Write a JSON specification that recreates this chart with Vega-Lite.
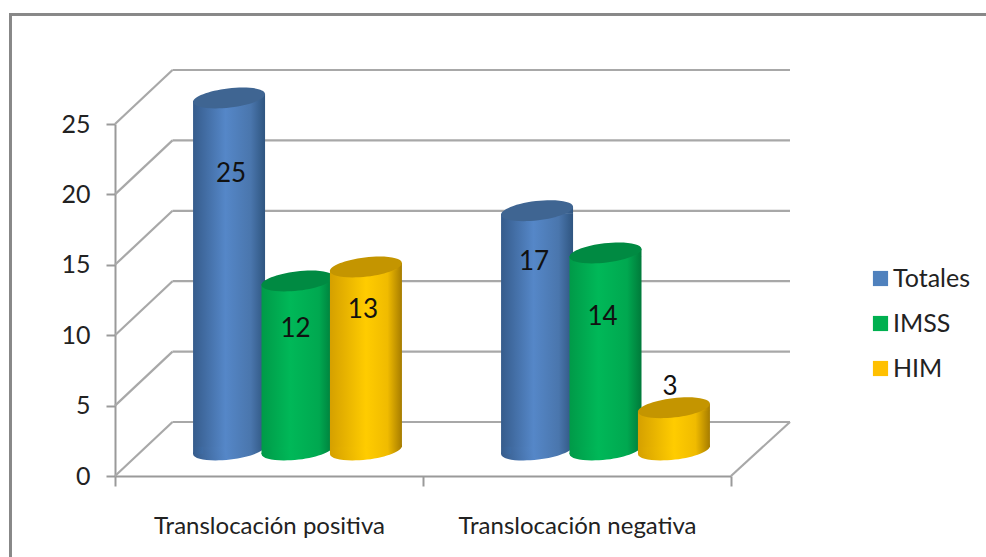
{
  "$schema": "https://vega.github.io/schema/vega-lite/v6.json",
  "width": 616,
  "height": 352,
  "autosize": {"type": "none"},
  "padding": {"left": 115, "top": 124, "right": 255, "bottom": 81},
  "background": "white",
  "config": {
    "view": {"stroke": null},
    "font": "Lato"
  },
  "datasets": {
    "casos": [
      {"grupo": "Translocación positiva", "serie": "Totales", "valor": 25},
      {"grupo": "Translocación positiva", "serie": "IMSS", "valor": 12},
      {"grupo": "Translocación positiva", "serie": "HIM", "valor": 13},
      {"grupo": "Translocación negativa", "serie": "Totales", "valor": 17},
      {"grupo": "Translocación negativa", "serie": "IMSS", "valor": 14},
      {"grupo": "Translocación negativa", "serie": "HIM", "valor": 3}
    ],
    "marcas": [
      {"marca": 0}, {"marca": 5}, {"marca": 10}, {"marca": 15}, {"marca": 20}, {"marca": 25}
    ]
  },
  "resolve": {"scale": {"x": "independent"}},
  "layer": [
    {
      "data": {"name": "marcas"},
      "encoding": {
        "x": {"datum": 0, "type": "quantitative", "scale": {"domain": [0, 1]}, "axis": null},
        "x2": {"datum": 1},
        "y": {
          "field": "marca", "type": "quantitative", "title": null,
          "scale": {"domain": [0, 25], "nice": false},
          "axis": {
            "values": [0, 5, 10, 15, 20, 25], "grid": false, "format": "d",
            "domainColor": "#9a9a9a", "domainWidth": 2, "tickColor": "#9a9a9a", "tickWidth": 2, "tickSize": 9,
            "labelFontSize": 25, "labelColor": "#222222", "labelPadding": 16, "labelFont": "Lato"
          }
        }
      },
      "layer": [
        {
          "mark": {"type": "rect", "fill": null, "stroke": "#888888", "strokeWidth": 2.5},
          "encoding": {
            "x": {"datum": -0.17, "type": "quantitative"},
            "x2": {"datum": 1.6},
            "y": {"datum": 32.8, "type": "quantitative"},
            "y2": {"datum": -12}
          }
        },
        {
          "mark": {"type": "rule", "stroke": "#a8a8a8", "strokeWidth": 2.2, "xOffset": 57.5, "x2Offset": 59, "yOffset": -54}
        },
        {
          "mark": {"type": "rule", "stroke": "#a8a8a8", "strokeWidth": 2.2, "x2Offset": 57.5, "y2Offset": -54},
          "encoding": {
            "x": {"datum": 0, "type": "quantitative"},
            "x2": {"datum": 0},
            "y2": {"field": "marca"}
          }
        },
        {
          "transform": [{"filter": "datum.marca === 0"}],
          "mark": {"type": "rule", "stroke": "#a8a8a8", "strokeWidth": 2.2, "x2Offset": 59, "y2Offset": -54},
          "encoding": {
            "x": {"datum": 1, "type": "quantitative"},
            "x2": {"datum": 1},
            "y2": {"field": "marca"}
          }
        }
      ]
    },
    {
      "data": {"name": "casos"},
      "encoding": {
        "x": {
          "field": "grupo", "type": "nominal", "sort": null, "title": null,
          "scale": {"paddingInner": 0, "paddingOuter": 0},
          "axis": {
            "labelAngle": 0, "tickBand": "extent", "domainColor": "#9a9a9a", "domainWidth": 2.2,
            "tickColor": "#9a9a9a", "tickWidth": 2, "tickSize": 10, "labelLimit": 400,
            "labelFontSize": 24, "labelColor": "#222222", "labelPadding": 40, "labelFont": "Lato", "labelBaseline": "middle"
          }
        },
        "xOffset": {
          "field": "serie", "type": "nominal", "sort": ["Totales", "IMSS", "HIM"],
          "scale": {"domain": ["Totales", "IMSS", "HIM"], "range": [28.5, 336.5], "paddingInner": 0, "paddingOuter": 0.75}
        },
        "y": {
          "field": "valor", "type": "quantitative", "title": null,
          "scale": {"domain": [0, 25], "nice": false},
          "axis": {
            "values": [0, 5, 10, 15, 20, 25], "grid": false, "format": "d",
            "domainColor": "#9a9a9a", "domainWidth": 2, "tickColor": "#9a9a9a", "tickWidth": 2, "tickSize": 9,
            "labelFontSize": 25, "labelColor": "#222222", "labelPadding": 16, "labelFont": "Lato"
          }
        }
      },
      "layer": [
        {
          "mark": {"type": "bar", "width": 60, "yOffset": -18, "y2Offset": -32},
          "encoding": {
            "y2": {"datum": 0},
            "color": {
              "field": "serie", "type": "nominal",
              "scale": {"domain": ["Totales", "IMSS", "HIM"], "range": ["#4f81bd", "#00b050", "#ffc000"]},
              "legend": {
                "title": null, "orient": "none", "legendX": 753, "legendY": 142,
                "symbolType": "square", "symbolSize": 230, "symbolStrokeWidth": 0, "symbolOpacity": 1,
                "labelFontSize": 25, "labelColor": "#222222", "labelFont": "Lato",
                "labelOffset": 0, "rowPadding": 19
              }
            }
          }
        },
        {
          "transform": [{"filter": "datum.serie === 'Totales'"}],
          "layer": [
            {
              "mark": {"type": "point", "filled": true, "opacity": 1, "size": 5242, "angle": -6.8, "yOffset": -26,
                "shape": "M-1,0A1,0.2666,0,1,0,1,0A1,0.2666,0,1,0,-1,0Z",
                "fill": {"gradient": "linear", "x1": 0, "y1": 0, "x2": 1, "y2": 0, "stops": [{"offset": 0, "color": "#365c8c"}, {"offset": 0.45, "color": "#5587c8"}, {"offset": 0.8, "color": "#4a76ad"}, {"offset": 1, "color": "#2f5580"}]}},
              "encoding": {"y": {"datum": 0, "type": "quantitative"}}
            },
            {
              "mark": {"type": "bar", "width": 72, "yOffset": -23, "y2Offset": -29,
                "fill": {"gradient": "linear", "x1": 0, "y1": 0, "x2": 1, "y2": 0, "stops": [{"offset": 0, "color": "#365c8c"}, {"offset": 0.45, "color": "#5587c8"}, {"offset": 0.8, "color": "#4a76ad"}, {"offset": 1, "color": "#2f5580"}]}},
              "encoding": {"y2": {"datum": 0}}
            },
            {
              "mark": {"type": "point", "filled": true, "opacity": 1, "size": 5184, "yOffset": -26,
                "shape": "M0.72,-0.11L1,-0.11L1,0.09L0.72,0.09Z",
                "fill": {"gradient": "linear", "x1": 0, "y1": 0, "x2": 1, "y2": 0, "stops": [{"offset": 0, "color": "#436da0"}, {"offset": 1, "color": "#2f5580"}]}}
            },
            {
              "mark": {"type": "point", "filled": true, "opacity": 1, "size": 5184, "yOffset": -26,
                "shape": "M-1,-0.09L-0.72,-0.09L-0.72,0.11L-1,0.11Z",
                "fill": {"gradient": "linear", "x1": 0, "y1": 0, "x2": 1, "y2": 0, "stops": [{"offset": 0, "color": "#365c8c"}, {"offset": 1, "color": "#3f6ca4"}]}},
              "encoding": {"y": {"datum": 0, "type": "quantitative"}}
            },
            {
              "mark": {"type": "point", "filled": true, "opacity": 1, "size": 5242, "angle": -6.8, "yOffset": -26,
                "shape": "M-1,0A1,0.2666,0,1,0,1,0A1,0.2666,0,1,0,-1,0Z", "fill": "#3f6592"}
            }
          ]
        },
        {
          "transform": [{"filter": "datum.serie === 'IMSS'"}],
          "layer": [
            {
              "mark": {"type": "point", "filled": true, "opacity": 1, "size": 5242, "angle": -6.8, "yOffset": -26,
                "shape": "M-1,0A1,0.2666,0,1,0,1,0A1,0.2666,0,1,0,-1,0Z",
                "fill": {"gradient": "linear", "x1": 0, "y1": 0, "x2": 1, "y2": 0, "stops": [{"offset": 0, "color": "#009a48"}, {"offset": 0.4, "color": "#00b858"}, {"offset": 0.8, "color": "#00a850"}, {"offset": 1, "color": "#007a3a"}]}},
              "encoding": {"y": {"datum": 0, "type": "quantitative"}}
            },
            {
              "mark": {"type": "bar", "width": 72, "yOffset": -23, "y2Offset": -29,
                "fill": {"gradient": "linear", "x1": 0, "y1": 0, "x2": 1, "y2": 0, "stops": [{"offset": 0, "color": "#009a48"}, {"offset": 0.4, "color": "#00b858"}, {"offset": 0.8, "color": "#00a850"}, {"offset": 1, "color": "#007a3a"}]}},
              "encoding": {"y2": {"datum": 0}}
            },
            {
              "mark": {"type": "point", "filled": true, "opacity": 1, "size": 5184, "yOffset": -26,
                "shape": "M0.72,-0.11L1,-0.11L1,0.09L0.72,0.09Z",
                "fill": {"gradient": "linear", "x1": 0, "y1": 0, "x2": 1, "y2": 0, "stops": [{"offset": 0, "color": "#009c4a"}, {"offset": 1, "color": "#007a3a"}]}}
            },
            {
              "mark": {"type": "point", "filled": true, "opacity": 1, "size": 5184, "yOffset": -26,
                "shape": "M-1,-0.09L-0.72,-0.09L-0.72,0.11L-1,0.11Z",
                "fill": {"gradient": "linear", "x1": 0, "y1": 0, "x2": 1, "y2": 0, "stops": [{"offset": 0, "color": "#009a48"}, {"offset": 1, "color": "#00a34e"}]}},
              "encoding": {"y": {"datum": 0, "type": "quantitative"}}
            },
            {
              "mark": {"type": "point", "filled": true, "opacity": 1, "size": 5242, "angle": -6.8, "yOffset": -26,
                "shape": "M-1,0A1,0.2666,0,1,0,1,0A1,0.2666,0,1,0,-1,0Z", "fill": "#008a42"}
            }
          ]
        },
        {
          "transform": [{"filter": "datum.serie === 'HIM'"}],
          "layer": [
            {
              "mark": {"type": "point", "filled": true, "opacity": 1, "size": 5242, "angle": -6.8, "yOffset": -26,
                "shape": "M-1,0A1,0.2666,0,1,0,1,0A1,0.2666,0,1,0,-1,0Z",
                "fill": {"gradient": "linear", "x1": 0, "y1": 0, "x2": 1, "y2": 0, "stops": [{"offset": 0, "color": "#d5a000"}, {"offset": 0.5, "color": "#ffcc00"}, {"offset": 0.8, "color": "#f0bb00"}, {"offset": 1, "color": "#a67c00"}]}},
              "encoding": {"y": {"datum": 0, "type": "quantitative"}}
            },
            {
              "mark": {"type": "bar", "width": 72, "yOffset": -23, "y2Offset": -29,
                "fill": {"gradient": "linear", "x1": 0, "y1": 0, "x2": 1, "y2": 0, "stops": [{"offset": 0, "color": "#d5a000"}, {"offset": 0.5, "color": "#ffcc00"}, {"offset": 0.8, "color": "#f0bb00"}, {"offset": 1, "color": "#a67c00"}]}},
              "encoding": {"y2": {"datum": 0}}
            },
            {
              "mark": {"type": "point", "filled": true, "opacity": 1, "size": 5184, "yOffset": -26,
                "shape": "M0.72,-0.11L1,-0.11L1,0.09L0.72,0.09Z",
                "fill": {"gradient": "linear", "x1": 0, "y1": 0, "x2": 1, "y2": 0, "stops": [{"offset": 0, "color": "#e4af00"}, {"offset": 1, "color": "#a67c00"}]}}
            },
            {
              "mark": {"type": "point", "filled": true, "opacity": 1, "size": 5184, "yOffset": -26,
                "shape": "M-1,-0.09L-0.72,-0.09L-0.72,0.11L-1,0.11Z",
                "fill": {"gradient": "linear", "x1": 0, "y1": 0, "x2": 1, "y2": 0, "stops": [{"offset": 0, "color": "#d5a000"}, {"offset": 1, "color": "#e2ae00"}]}},
              "encoding": {"y": {"datum": 0, "type": "quantitative"}}
            },
            {
              "mark": {"type": "point", "filled": true, "opacity": 1, "size": 5242, "angle": -6.8, "yOffset": -26,
                "shape": "M-1,0A1,0.2666,0,1,0,1,0A1,0.2666,0,1,0,-1,0Z", "fill": "#c49500"}
            }
          ]
        },
        {
          "mark": {
            "type": "text", "fontSize": 26, "font": "Lato", "color": "#111111",
            "baseline": "middle", "align": "center", "yOffset": -26,
            "dx": {"expr": "datum.valor === 25 ? 2 : datum.valor === 12 ? -2 : datum.valor === 3 ? -4 : -3"},
            "dy": {"expr": "{'25': 76, '12': 48, '13': 43, '17': 51, '14': 64, '3': -21}[datum.valor]"}
          },
          "encoding": {"text": {"field": "valor", "type": "quantitative"}}
        }
      ]
    }
  ]
}
